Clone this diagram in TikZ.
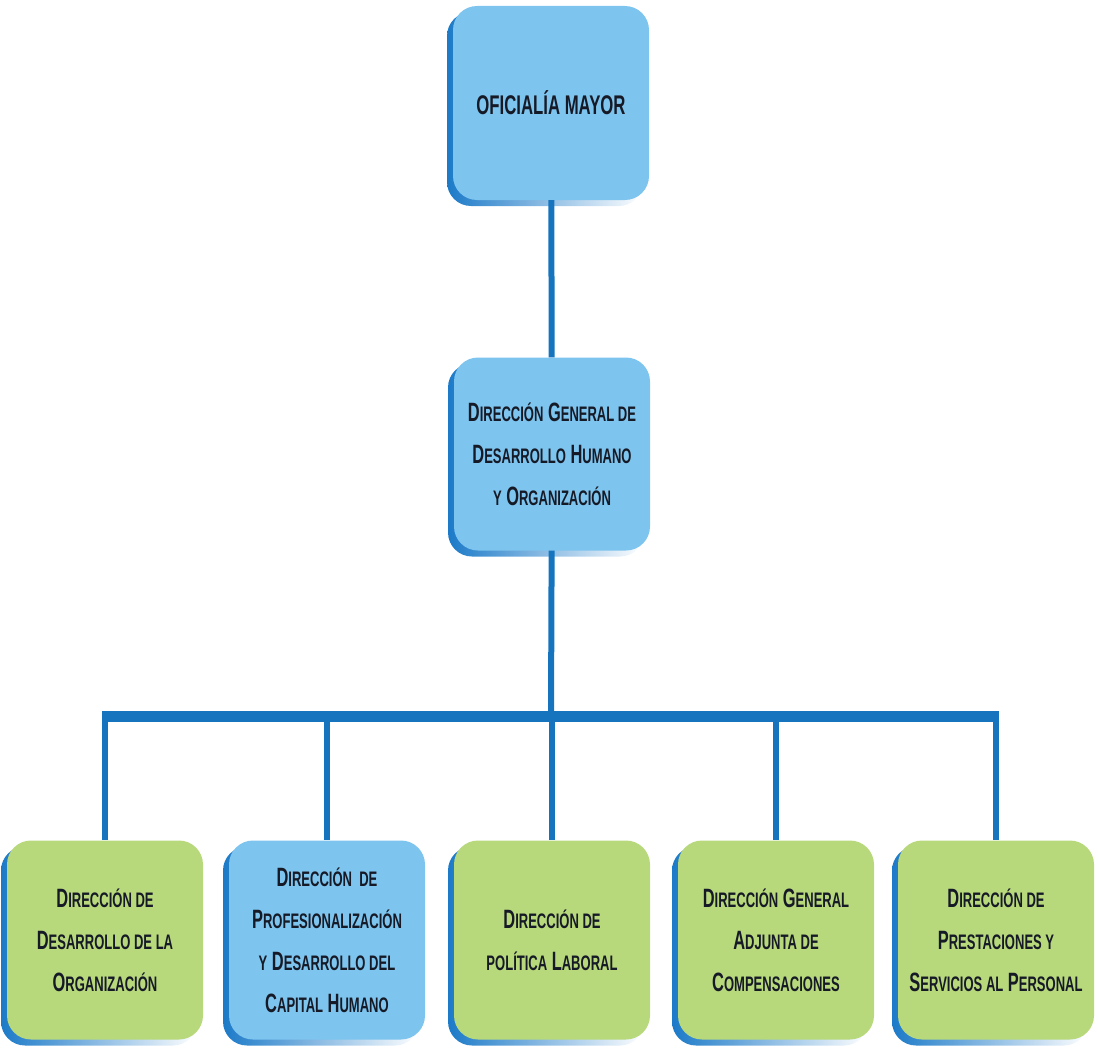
\documentclass[tikz,border=0pt]{standalone}
\usepackage{fontspec}
\setmainfont[FakeStretch=0.62]{Liberation Sans}
\usepackage{tikz}
\usetikzlibrary{shadows}

\definecolor{boxblue}{RGB}{125,196,238}
\definecolor{boxgreen}{RGB}{184,216,124}
\definecolor{lineblue}{RGB}{22,116,190}
\definecolor{shadeblue}{RGB}{28,122,200}
\definecolor{inkdark}{RGB}{22,26,38}

% small caps by hand
\newcommand\smc[1]{{\fontsize{21}{42}\selectfont #1}}

\tikzset{
  unit/.style={rectangle, rounded corners=24pt, minimum width=196pt,
    minimum height=197pt, inner sep=2pt, text=inkdark, align=center,
    font=\bfseries\fontsize{26.5}{42}\selectfont,
    general shadow={shadow xshift=-6pt, shadow yshift=-6pt,
      left color=shadeblue, right color=white}},
  blueunit/.style={unit, fill=boxblue},
  greenunit/.style={unit, fill=boxgreen},
  link/.style={draw=lineblue, line width=6pt},
  busline/.style={draw=lineblue, line width=11pt}
}

\begin{document}
\begin{tikzpicture}[x=1pt, y=-1pt]
  \useasboundingbox (0,0) rectangle (1098,1049);
  % top of the chart
  \node[blueunit, minimum height=194pt, font=\bfseries\fontsize{27}{42}\selectfont]
    (oficialia) at (551,103) {OFICIALÍA MAYOR};
  \node[blueunit, minimum height=193pt] (dgdho) at (552,454)
    {D\smc{IRECCIÓN} G\smc{ENERAL DE}\\D\smc{ESARROLLO} H\smc{UMANO}\\\smc{Y} O\smc{RGANIZACIÓN}};
  \coordinate (bus) at (551,716);
  % five directions
  \foreach \n/\x/\st/\txt in {
      1/105/greenunit/{D\smc{IRECCIÓN DE}\\D\smc{ESARROLLO DE LA}\\O\smc{RGANIZACIÓN}},
      2/327/blueunit/{D\smc{IRECCIÓN\ \ DE}\\P\smc{ROFESIONALIZACIÓN}\\\smc{Y} D\smc{ESARROLLO DEL}\\C\smc{APITAL} H\smc{UMANO}},
      3/552/greenunit/{D\smc{IRECCIÓN DE}\\\smc{POLÍTICA} L\smc{ABORAL}},
      4/776/greenunit/{D\smc{IRECCIÓN} G\smc{ENERAL}\\A\smc{DJUNTA DE}\\C\smc{OMPENSACIONES}},
      5/996/greenunit/{D\smc{IRECCIÓN DE}\\P\smc{RESTACIONES Y}\\S\smc{ERVICIOS AL} P\smc{ERSONAL}}} {
    \node[\st, minimum height=199pt] (dir\n) at (\x,940) {\txt};
  }
  % connectors
  \draw[link] (oficialia) -- (dgdho);
  \draw[link] (dgdho) -- (bus);
  \draw[busline] ([xshift=-3pt]dir1.north |- bus) -- ([xshift=3pt]dir5.north |- bus);
  \foreach \n in {1,...,5}
    \draw[link] (dir\n.north |- bus) -- (dir\n);
\end{tikzpicture}
\end{document}
